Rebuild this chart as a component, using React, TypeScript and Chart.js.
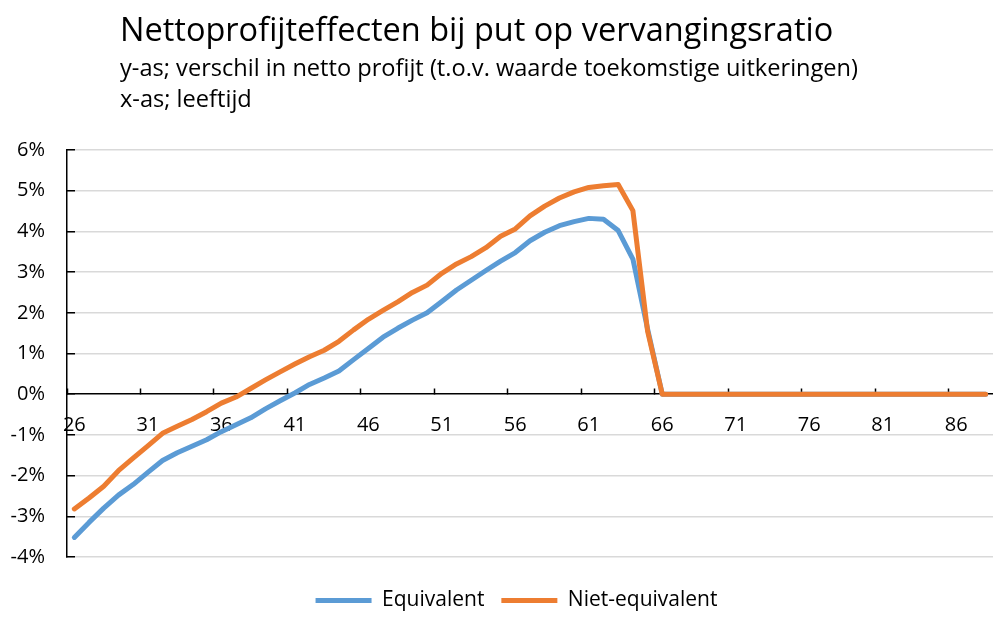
import React, { useEffect, useRef } from "react";
import { Chart, registerables } from "chart.js";

Chart.register(...registerables);

const FONT = "'Open Sans', Lato, sans-serif";

const title = "Nettoprofijteffecten bij put op vervangingsratio";
const subtitleY = "y-as; verschil in netto profijt (t.o.v. waarde toekomstige uitkeringen)";
const subtitleX = "x-as; leeftijd";

const ages = [
  "26", "27", "28", "29", "30", "31", "32", "33", "34", "35",
  "36", "37", "38", "39", "40", "41", "42", "43", "44", "45",
  "46", "47", "48", "49", "50", "51", "52", "53", "54", "55",
  "56", "57", "58", "59", "60", "61", "62", "63", "64", "65",
  "66", "67", "68", "69", "70", "71", "72", "73", "74", "75",
  "76", "77", "78", "79", "80", "81", "82", "83", "84", "85",
  "86", "87", "88",
];

// values in percent
const equivalent = [
  -3.52, -3.15, -2.8, -2.48, -2.22, -1.92, -1.63, -1.44, -1.28, -1.12,
  -0.92, -0.75, -0.58, -0.36, -0.16, 0.03, 0.24, 0.4, 0.57, 0.85,
  1.12, 1.4, 1.62, 1.82, 2.0, 2.28, 2.56, 2.8, 3.04, 3.27,
  3.48, 3.77, 3.98, 4.14, 4.24, 4.32, 4.3, 4.02, 3.32, 1.6,
  0, 0, 0, 0, 0, 0, 0, 0, 0, 0,
  0, 0, 0, 0, 0, 0, 0, 0, 0, 0,
  0, 0, 0,
];

const nietEquivalent = [
  -2.82, -2.55, -2.26, -1.88, -1.57, -1.27, -0.96, -0.79, -0.62, -0.43,
  -0.22, -0.07, 0.14, 0.35, 0.55, 0.74, 0.92, 1.08, 1.3, 1.58,
  1.84, 2.06, 2.27, 2.5, 2.68, 2.97, 3.2, 3.38, 3.6, 3.88,
  4.06, 4.38, 4.62, 4.82, 4.97, 5.08, 5.12, 5.15, 4.51, 1.55,
  0, 0, 0, 0, 0, 0, 0, 0, 0, 0,
  0, 0, 0, 0, 0, 0, 0, 0, 0, 0,
  0, 0, 0,
];

const yMin = -4;
const yMax = 6;
const yStep = 1;
const labelEvery = 5;

const BLUE = "#5B9BD5";
const ORANGE = "#ED7D31";

export default function App() {
  const canvasRef = useRef<HTMLCanvasElement | null>(null);

  useEffect(() => {
    document.body.style.margin = "0";
    const canvas = canvasRef.current;
    if (!canvas) return;
    const chart = new Chart(canvas, {
      type: "line",
      data: {
        labels: ages,
        datasets: [
          {
            label: "Equivalent",
            data: equivalent,
            borderColor: BLUE,
            backgroundColor: BLUE,
            borderWidth: 5,
            pointRadius: 0,
            tension: 0,
            borderJoinStyle: "round",
            borderCapStyle: "round",
            order: 2,
          },
          {
            label: "Niet-equivalent",
            data: nietEquivalent,
            borderColor: ORANGE,
            backgroundColor: ORANGE,
            borderWidth: 5,
            pointRadius: 0,
            tension: 0,
            borderJoinStyle: "round",
            borderCapStyle: "round",
            order: 1,
          },
        ],
      },
      options: {
        responsive: false,
        animation: false,
        devicePixelRatio: 1,
        layout: { padding: { top: 150, left: 40, right: 0, bottom: -4 } },
        plugins: {
          tooltip: { enabled: false },
          title: { display: false },
          legend: {
            display: true,
            position: "bottom",
            title: { display: true, text: " ", font: { size: 5 }, padding: { top: 0, bottom: 10 } },
            labels: {
              usePointStyle: true,
              pointStyle: "line",
              pointStyleWidth: 56,
              padding: 17,
              color: "#000",
              font: { family: FONT, size: 21 },
              sort: (a: any, b: any) => a.datasetIndex - b.datasetIndex,
            },
          },
        },
        scales: {
          x: {
            type: "category",
            position: { y: 0 },
            offset: true,
            afterFit: (scale: any) => {
              scale.paddingLeft = 0;
              scale.paddingRight = 0;
            },
            grid: {
              display: true,
              offset: true,
              drawOnChartArea: false,
              drawTicks: true,
              tickLength: -6,
              tickWidth: 1.5,
              tickColor: (ctx: any) => (ctx.index % labelEvery === 0 ? "#000" : "rgba(0,0,0,0)"),
            },
            border: { display: true, color: "#000", width: 1.5 },
            ticks: {
              autoSkip: false,
              maxRotation: 0,
              minRotation: 0,
              padding: 25,
              color: "#000",
              font: { family: FONT, size: 20 },
              callback: (_v: any, i: number) => (i % labelEvery === 0 ? ages[i] : ""),
            },
          },
          y: {
            type: "linear",
            min: yMin,
            max: yMax,
            afterFit: (scale: any) => {
              scale.width = 27;
              // let the tick labels extend left of the padded scale box
              scale._computeLabelArea = () => undefined;
            },
            grid: {
              color: (ctx: any) => (ctx.tick && ctx.tick.value === 0 ? "rgba(0,0,0,0)" : "#d9d9d9"),
              lineWidth: 1.5,
              drawTicks: true,
              tickLength: -8,
              tickColor: "#000",
              tickWidth: 1.5,
            },
            border: { display: true, color: "#000", width: 1.5 },
            ticks: {
              stepSize: yStep,
              padding: 30,
              color: "#000",
              font: { family: FONT, size: 20 },
              callback: (v: any) => `${v}%`,
            },
          },
        },
      },
    });
    return () => chart.destroy();
  }, []);

  const textBase: React.CSSProperties = {
    position: "absolute",
    left: 120,
    fontFamily: FONT,
    color: "#000",
    whiteSpace: "nowrap",
    lineHeight: 1,
  };

  return (
    <div style={{ position: "fixed", left: 0, top: 0, width: 993, height: 617, background: "#fff", overflow: "hidden" }}>
      <canvas ref={canvasRef} width={993} height={617} style={{ position: "absolute", left: 0, top: 0, width: 993, height: 617 }} />
      <div style={{ ...textBase, top: 13, fontSize: 32.5 }}>{title}</div>
      <div style={{ ...textBase, top: 56, fontSize: 23.6 }}>{subtitleY}</div>
      <div style={{ ...textBase, top: 87, fontSize: 23.6 }}>{subtitleX}</div>
    </div>
  );
}
